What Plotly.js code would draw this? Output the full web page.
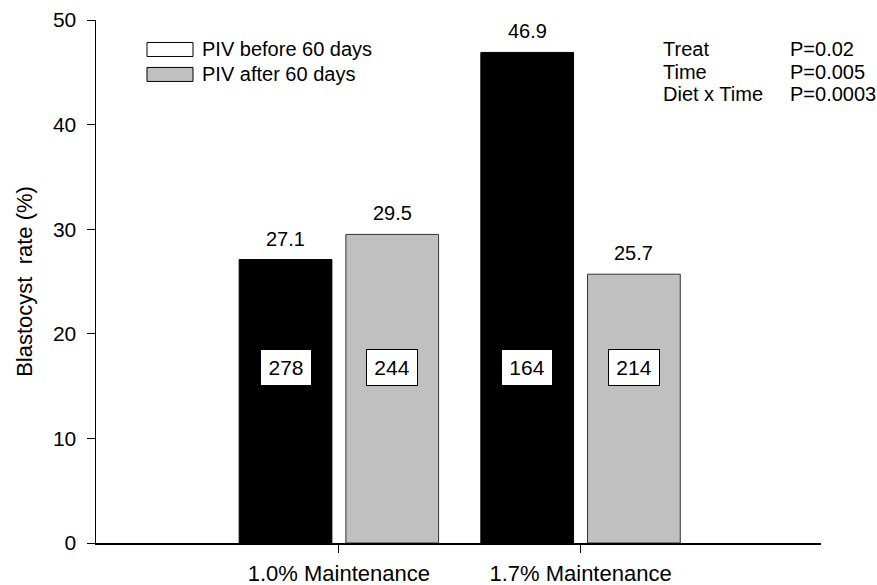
<!DOCTYPE html>
<html>
<head>
<meta charset="utf-8">
<script src="https://cdn.plot.ly/plotly-3.0.1.min.js"></script>
<style>
  html, body { margin: 0; padding: 0; background: #fff; }
  #chart { width: 877px; height: 585px; }
</style>
</head>
<body>
<div id="chart"></div>
<script>
// ---- data ----
const categories = ['1.0% Maintenance', '1.7% Maintenance'];
const seriesNames = ['PIV before 60 days', 'PIV after 60 days'];
const beforeValues = [27.1, 46.9];
const afterValues = [29.5, 25.7];
const beforeN = [278, 164];
const afterN = [244, 214];
const statLabels = ['Treat', 'Time', 'Diet x Time'];
const statPValues = ['P=0.02', 'P=0.005', 'P=0.0003'];
const yTickValues = [0, 10, 20, 30, 40, 50];

// ---- layout constants ----
const W = 877, H = 585;
const M = { l: 96, r: 56, t: 20, b: 41.6 };
const PW = W - M.l - M.r, PH = H - M.t - M.b;
const px2paperX = px => (px - M.l) / PW;
const px2paperY = py => (H - M.b - py) / PH;
const FONT = 'Arial, "Liberation Sans", sans-serif';
const BARGAP = 0.117, BARGROUPGAP = 0.131;
const slot = (1 - BARGAP) / 2;
const offsets = [-slot / 2, slot / 2];
const N_BOX_Y = 16.8;
const colors = ['#000000', '#c0c0c0'];
const lineColors = ['#000000', '#333333'];

const traces = [beforeValues, afterValues].map((vals, s) => ({
  type: 'bar',
  name: seriesNames[s],
  x: categories,
  y: vals,
  marker: { color: colors[s], line: { color: lineColors[s], width: 1 } },
  showlegend: false,
  hoverinfo: 'skip'
}));

const annotations = [];
[beforeValues, afterValues].forEach((vals, s) => {
  const ns = s === 0 ? beforeN : afterN;
  vals.forEach((v, i) => {
    annotations.push({
      x: i + offsets[s], y: v, xref: 'x', yref: 'y',
      text: v.toFixed(1), showarrow: false,
      yanchor: 'bottom', yshift: 8,
      font: { family: FONT, size: 20, color: '#000' }
    });
    annotations.push({
      x: i + offsets[s], y: N_BOX_Y, xref: 'x', yref: 'y',
      text: String(ns[i]), showarrow: false,
      width: 48, height: 33,
      bgcolor: '#ffffff', bordercolor: '#000000', borderwidth: 1,
      font: { family: FONT, size: 21, color: '#000' }
    });
  });
});

// stats text
const statRowsY = [49.5, 72, 94.5];
statLabels.forEach((lab, k) => {
  annotations.push({
    x: px2paperX(661), y: px2paperY(statRowsY[k]), xref: 'paper', yref: 'paper',
    text: lab, showarrow: false, xanchor: 'left', yanchor: 'middle',
    font: { family: FONT, size: 20, color: '#000' }
  });
  annotations.push({
    x: px2paperX(788), y: px2paperY(statRowsY[k]), xref: 'paper', yref: 'paper',
    text: statPValues[k], showarrow: false, xanchor: 'left', yanchor: 'middle',
    font: { family: FONT, size: 20, color: '#000' }
  });
});

// custom legend
const legendRowsY = [49.5, 74.5];
const legendFill = ['#ffffff', '#c0c0c0'];
const shapes = [];
seriesNames.forEach((nm, k) => {
  shapes.push({
    type: 'rect', xref: 'paper', yref: 'paper',
    x0: px2paperX(147), x1: px2paperX(193),
    y0: px2paperY(legendRowsY[k] + 7), y1: px2paperY(legendRowsY[k] - 7),
    fillcolor: legendFill[k], line: { color: '#000', width: 1 }
  });
  annotations.push({
    x: px2paperX(200), y: px2paperY(legendRowsY[k]), xref: 'paper', yref: 'paper',
    text: nm, showarrow: false, xanchor: 'left', yanchor: 'middle',
    font: { family: FONT, size: 20, color: '#000' }
  });
});

const layout = {
  width: W, height: H,
  margin: { l: M.l, r: M.r, t: M.t, b: M.b, pad: 0 },
  paper_bgcolor: '#fff', plot_bgcolor: '#fff',
  barmode: 'group', bargap: BARGAP, bargroupgap: BARGROUPGAP,
  showlegend: false,
  font: { family: FONT, size: 20, color: '#000' },
  xaxis: {
    type: 'category', range: [-1.005, 1.995],
    showline: true, linecolor: '#000', linewidth: 2,
    ticks: 'outside', ticklen: 8, tickwidth: 1, tickcolor: '#000',
    ticklabelstandoff: 2,
    showgrid: false, zeroline: false,
    tickfont: { family: FONT, size: 22, color: '#000' }
  },
  yaxis: {
    range: [0, 50], tickvals: yTickValues, ticktext: yTickValues.map(String),
    showline: true, linecolor: '#000', linewidth: 1.5,
    ticks: 'outside', ticklen: 8, tickwidth: 1, tickcolor: '#000',
    ticklabelstandoff: 6,
    showgrid: false, zeroline: false,
    tickfont: { family: FONT, size: 21, color: '#000' },
    title: { text: 'Blastocyst\u00a0 rate (%)', font: { family: FONT, size: 22, color: '#000' }, standoff: 14 }
  },
  annotations: annotations,
  shapes: shapes
};

Plotly.newPlot('chart', traces, layout, { displayModeBar: false, staticPlot: true });
</script>
</body>
</html>
